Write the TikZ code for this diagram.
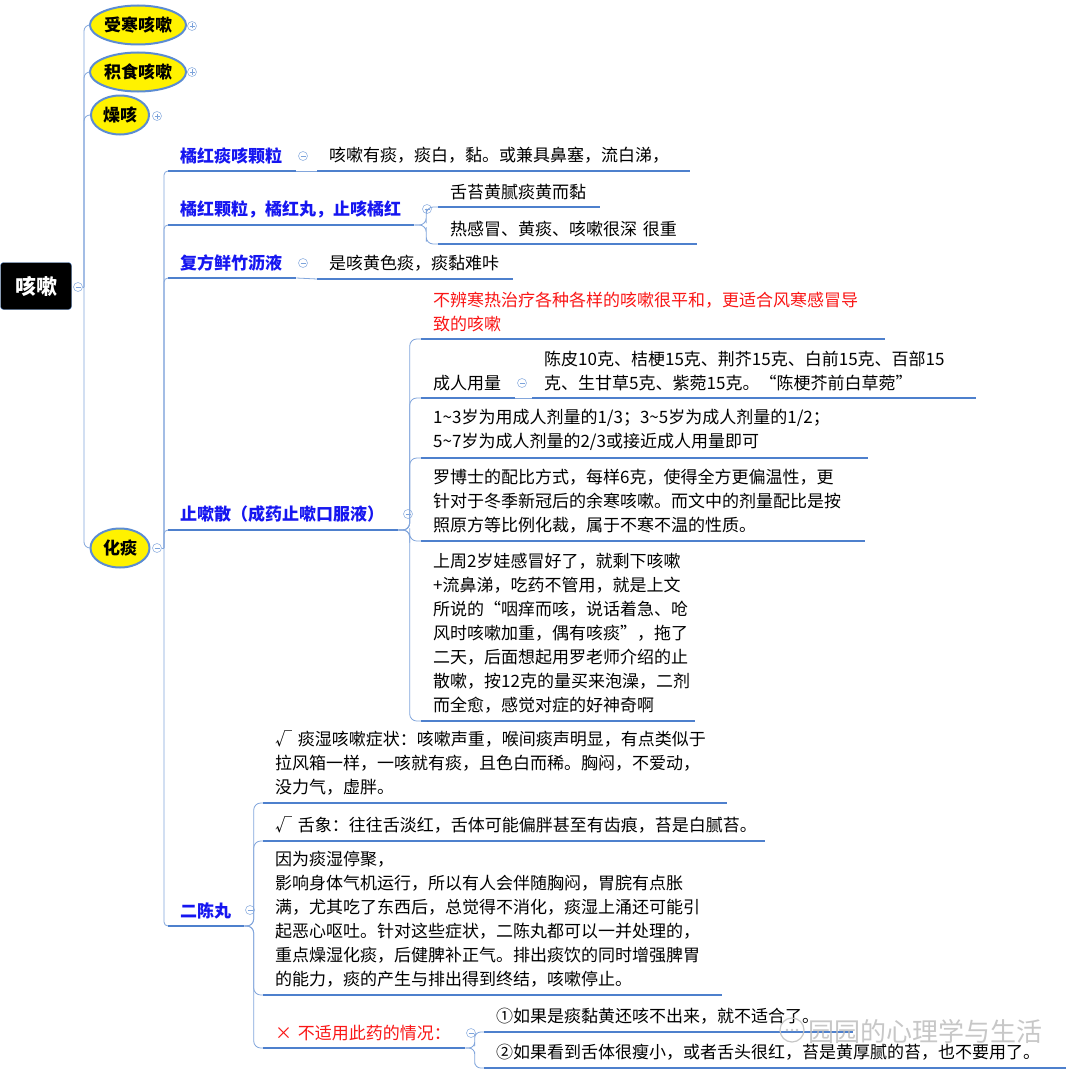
\documentclass[tikz,border=0pt]{standalone}
\usepackage{fontspec}
\setmainfont{Noto Sans CJK SC}
\usetikzlibrary{shapes.geometric,calc}
\definecolor{linkblue}{RGB}{130,166,220}
\definecolor{lineblue}{RGB}{78,128,205}
\definecolor{ringblue}{RGB}{91,140,210}
\definecolor{headblue}{RGB}{22,22,240}
\definecolor{warnred}{RGB}{250,22,22}

\begin{document}
\begin{tikzpicture}[x=1pt, y=-1pt, line join=round]
\tikzset{
  root/.style={fill=black, draw=ringblue, rounded corners=3pt, text=white, font=\fontsize{21}{24}\selectfont\bfseries, minimum width=71, minimum height=47, inner sep=0pt},
  sort/.style={ellipse, draw=ringblue, line width=2pt, fill=yellow, font=\fontsize{17}{20}\selectfont\bfseries, inner xsep=0pt, inner ysep=2pt, minimum height=39},
  item/.style={anchor=south west, inner xsep=12, inner ysep=7, align=left, font=\fontsize{17}{24}\selectfont},
  head/.style={item, text=headblue, font=\fontsize{17}{24}\selectfont\bfseries},
  fold/.style={circle, draw=ringblue!65, line width=0.6pt, fill=white, inner sep=0pt, minimum size=9,
    path picture={\draw[ringblue!80, line width=0.6pt] ([xshift=-2.5pt]path picture bounding box.center) -- ([xshift=2.5pt]path picture bounding box.center);}},
  unfold/.style={fold,
    path picture={\draw[ringblue!80, line width=0.6pt] ([xshift=-2.5pt]path picture bounding box.center) -- ([xshift=2.5pt]path picture bounding box.center)
      ([yshift=-2.5pt]path picture bounding box.center) -- ([yshift=2.5pt]path picture bounding box.center);}},
  link/.style={linkblue, line width=0.8pt},
  uline/.style={lineblue, line width=2.2pt},
  branch/.style={to path={-| ($(\tikztostart)!.5!(\tikztotarget)$) |- (\tikztotarget)}}
}
\fill[white] (0,0) rectangle (1080,1081);
\useasboundingbox (0,0) rectangle (1080,1081);

% root and first level
\node[root] (cough) at (36,286) {咳嗽};
\node[fold] (f0) at (78,287) {};
\coordinate (rhub) at (84,287);
\node[sort] (cold) at (138,25) {受寒咳嗽};
\node[unfold] (fcold) at (192,26) {};
\node[sort] (food) at (138,72) {积食咳嗽};
\node[unfold] (ffood) at (192,72) {};
\node[sort, minimum width=58] (dry) at (120,115) {燥咳};
\node[unfold] (fdry) at (157,116) {};
\node[sort, minimum width=59] (phlegm) at (120,548) {化痰};
\node[fold] (fphlegm) at (157,548) {};
\coordinate (phub) at (164,548);

% medicines under 化痰
\node[head, text width=104] (t1) at (168,171) {橘红痰咳颗粒};
\node[fold] (f1) at (303,156) {};
\node[item, text width=349] (c1) at (317,171) {咳嗽有痰，痰白，黏。或兼具鼻塞，流白涕，};

\node[head, text width=222] (t2) at (168,225) {橘红颗粒，橘红丸，止咳橘红};
\node[fold] (f2) at (427,209) {};
\node[item, text width=138] (c2a) at (438,207) {舌苔黄腻痰黄而黏};
\node[item, text width=235] (c2b) at (438,244) {热感冒、黄痰、咳嗽很深 很重};

\node[head, text width=104] (t3) at (168,278) {复方鲜竹沥液};
\node[fold] (f3) at (303,263) {};
\node[item, text width=172] (c3) at (317,279) {是咳黄色痰，痰黏难咔};

\node[head, text width=206] (t4) at (168,530) {止嗽散（成药止嗽口服液）};
\node[fold] (f4) at (408,514) {};
\node[item, text=warnred, text width=440] (s1) at (421,339) {不辨寒热治疗各种各样的咳嗽很平和，更适合风寒感冒导\\致的咳嗽};
\node[item, text width=70] (s2) at (421,398) {成人用量};
\node[fold] (f5) at (522,383) {};
\node[item, text width=420] (s2a) at (532,398) {陈皮10克、桔梗15克、荆芥15克、白前15克、百部15\\克、生甘草5克、紫菀15克。“陈梗芥前白草菀”};
\node[item, text width=423] (s3) at (421,458) {1\textasciitilde3岁为用成人剂量的1/3；3\textasciitilde5岁为成人剂量的1/2；\\5\textasciitilde7岁为成人剂量的2/3或接近成人用量即可};
\node[item, text width=420] (s4) at (421,541) {罗博士的配比方式，每样6克，使得全方更偏温性，更\\针对于冬季新冠后的余寒咳嗽。而文中的剂量配比是按\\照原方等比例化裁，属于不寒不温的性质。};
\node[item, text width=250] (s5) at (421,721) {上周2岁娃感冒好了，就剩下咳嗽\\+流鼻涕，吃药不管用，就是上文\\所说的“咽痒而咳，说话着急、呛\\风时咳嗽加重，偶有咳痰”，拖了\\二天，后面想起用罗老师介绍的止\\散嗽，按12克的量买来泡澡，二剂\\而全愈，感觉对症的好神奇啊};

\node[head, text width=52] (t5) at (168,926) {二陈丸};
\node[fold] (f6) at (250,910) {};
\node[item, text width=440] (d1) at (263,803) {√ 痰湿咳嗽症状：咳嗽声重，喉间痰声明显，有点类似于\\拉风箱一样，一咳就有痰，且色白而稀。胸闷，不爱动，\\没力气，虚胖。};
\node[item, text width=478] (d2) at (263,841) {√ 舌象：往往舌淡红，舌体可能偏胖甚至有齿痕，苔是白腻苔。};
\node[item, text width=435] (d3) at (263,995) {因为痰湿停聚，\\影响身体气机运行，所以有人会伴随胸闷，胃脘有点胀\\满，尤其吃了东西后，总觉得不消化，痰湿上涌还可能引\\起恶心呕吐。针对这些症状，二陈丸都可以一并处理的，\\重点燥湿化痰，后健脾补正气。排出痰饮的同时增强脾胃\\的能力，痰的产生与排出得到终结，咳嗽停止。};
\node[item, text=warnred, text width=178] (d4) at (263,1048) {\mbox{× 不适用此药的情况：}};
\node[fold] (f7) at (471,1033) {};
\node[item, text width=345] (e1) at (484,1032) {①如果是痰黏黄还咳不出来，就不适合了。};
\node[item, text width=558] (e2) at (484,1068) {②如果看到舌体很瘦小，或者舌头很红，苔是黄厚腻的苔，也不要用了。};

% connectors
\draw[link] (f0) -- (rhub);
\foreach \n in {cold,food,dry,phlegm}
  \draw[link, rounded corners=6] (rhub) |- (\n.west);
\draw[link] (fphlegm) -- (phub);
\foreach \n in {t1,t2,t3,t4,t5}
  \draw[link, rounded corners=4] (phub) |- (\n.south west);
\draw[link] (t1.south east) -- (c1.south west);
\draw[link] (t3.south east) -- (c3.south west);
\draw[link] (s2.south east) -- (s2a.south west);
\foreach \n in {c2a,c2b}
  \draw[link, rounded corners=7] (t2.south east) to[branch] (\n.south west);
\foreach \n in {s1,s2,s3,s4,s5}
  \draw[link, rounded corners=7] (t4.south east) to[branch] (\n.south west);
\foreach \n in {d1,d2,d3,d4}
  \draw[link, rounded corners=7] (t5.south east) to[branch] (\n.south west);
\foreach \n in {e1,e2}
  \draw[link, rounded corners=6] (d4.south east) to[branch] (\n.south west);

% underlines
\foreach \n in {t1,t2,t3,t4,t5,c1,c2a,c2b,c3,s1,s2,s2a,s3,s4,s5,d1,d2,d3,d4,e1,e2}
  \draw[uline] (\n.south west) -- (\n.south east);

% watermark
\draw[gray!45, line width=1.2pt] (792,1030) circle (12);
\foreach \k in {-5,0,5}
  \fill[gray!45] (792+\k,1030) circle (1.4);
\node[text=gray!55, opacity=0.8, font=\fontsize{26}{28}\selectfont] (mark) at (925,1031) {园园的心理学与生活};
\end{tikzpicture}
\end{document}
